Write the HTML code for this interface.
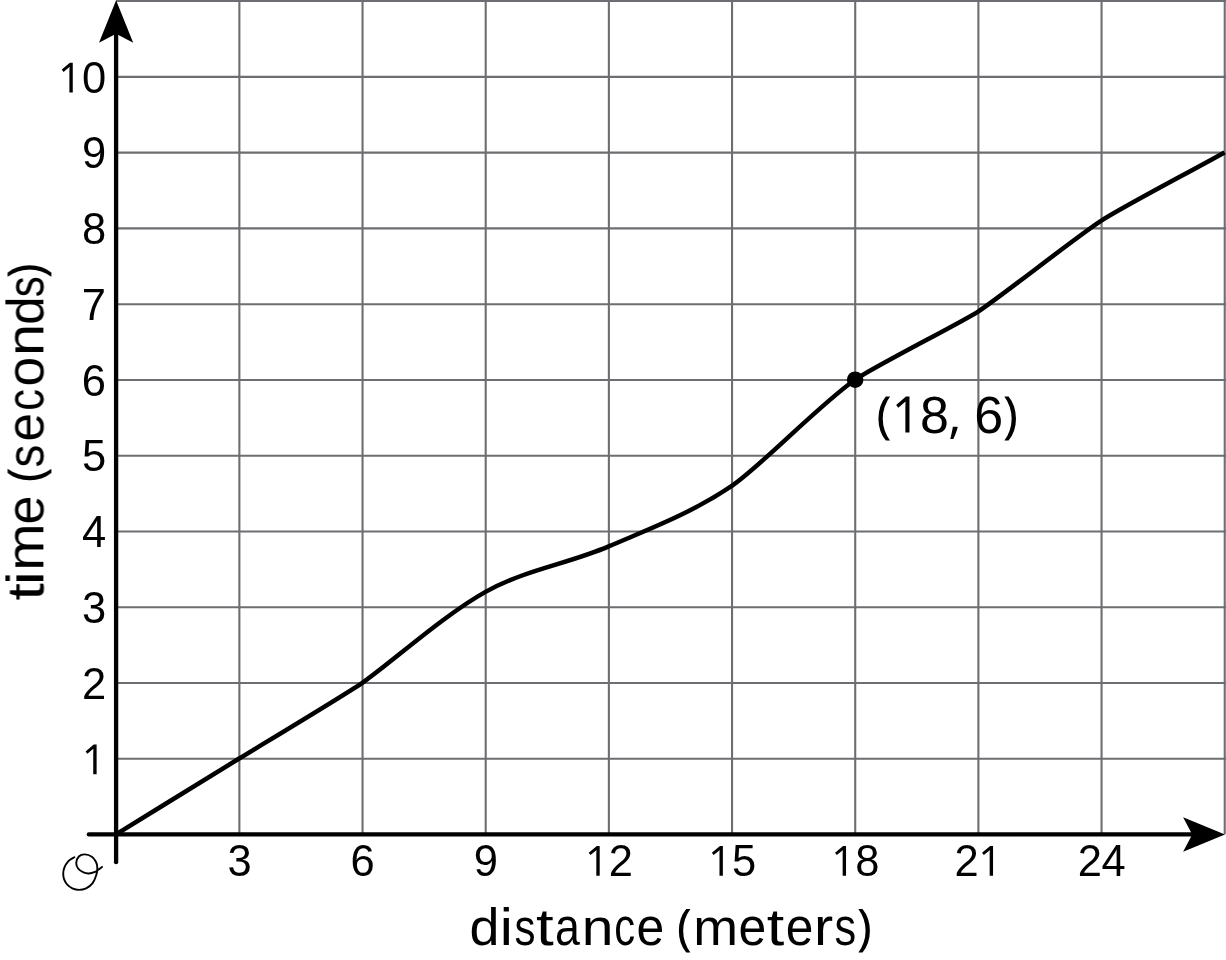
<!DOCTYPE html>
<html><head><meta charset="utf-8"><title>graph</title>
<style>
html,body{margin:0;padding:0;background:#fff;}
body{width:1226px;height:960px;overflow:hidden;}
svg{display:block;}
text{font-family:"Liberation Sans",sans-serif;fill:#000;}
</style></head><body>
<svg width="1226" height="960" viewBox="0 0 1226 960">
<rect width="1226" height="960" fill="#fff"/>
<g stroke="#6d6e71" stroke-width="2.1" fill="none">
<line x1="239.37" y1="0" x2="239.37" y2="834.30"/>
<line x1="362.54" y1="0" x2="362.54" y2="834.30"/>
<line x1="485.71" y1="0" x2="485.71" y2="834.30"/>
<line x1="608.88" y1="0" x2="608.88" y2="834.30"/>
<line x1="732.05" y1="0" x2="732.05" y2="834.30"/>
<line x1="855.22" y1="0" x2="855.22" y2="834.30"/>
<line x1="978.39" y1="0" x2="978.39" y2="834.30"/>
<line x1="1101.56" y1="0" x2="1101.56" y2="834.30"/>
<line x1="1224.73" y1="0" x2="1224.73" y2="834.30"/>
<line x1="116.00" y1="758.74" x2="1226" y2="758.74"/>
<line x1="116.00" y1="682.98" x2="1226" y2="682.98"/>
<line x1="116.00" y1="607.22" x2="1226" y2="607.22"/>
<line x1="116.00" y1="531.46" x2="1226" y2="531.46"/>
<line x1="116.00" y1="455.70" x2="1226" y2="455.70"/>
<line x1="116.00" y1="379.94" x2="1226" y2="379.94"/>
<line x1="116.00" y1="304.18" x2="1226" y2="304.18"/>
<line x1="116.00" y1="228.42" x2="1226" y2="228.42"/>
<line x1="116.00" y1="152.66" x2="1226" y2="152.66"/>
<line x1="116.00" y1="76.90" x2="1226" y2="76.90"/>
<line x1="116.00" y1="0.84" x2="1226" y2="0.84"/>
</g>
<g stroke="#000" stroke-width="4.3" stroke-linecap="round" fill="none">
<line x1="116.1" y1="862.2" x2="116.1" y2="30"/>
<line x1="88.8" y1="834.4" x2="1195" y2="834.4"/>
</g>
<path d="M116.1,0.3 L133.2,42.7 L116.1,33.7 L99,42.7 Z" fill="#000"/>
<path d="M1225,834.5 L1183.1,817.2 L1192.2,834.5 L1183.1,851.8 Z" fill="#000"/>
<path d="M116.00,834.30 C157.06,809.05 218.64,771.17 239.17,758.54 C259.70,745.91 341.81,696.67 362.34,682.78 C386.97,666.11 444.45,614.60 485.51,591.87 C526.57,569.14 567.62,564.09 608.68,546.41 C649.74,528.73 690.79,513.58 731.85,485.80 C760.59,466.36 818.07,405.88 855.02,379.74 C871.44,368.12 961.77,322.16 978.19,311.56 C998.72,298.30 1076.73,236.55 1101.36,220.64 C1121.89,207.39 1183.47,175.19 1224.53,152.46" stroke="#000" stroke-width="4.5" fill="none" stroke-linejoin="round" stroke-linecap="butt"/>
<circle cx="855.15" cy="379.7" r="8.3" fill="#000"/>
<g fill="#000" opacity="0.999">
<text x="227.50" y="875.70" font-size="43.5">3</text>
<text x="350.40" y="875.70" font-size="43.5">6</text>
<text x="473.72" y="875.70" font-size="43.5">9</text>
<path transform="translate(585.14,875.70) scale(0.02036,-0.02036)" d="M715,0H549V1014Q549,1130 557,1262Q535,1240 508,1217L262,1012L174,1124L573,1462H715Z"/>
<text x="608.81" y="875.70" font-size="43.5">2</text>
<path transform="translate(708.31,875.70) scale(0.02036,-0.02036)" d="M715,0H549V1014Q549,1130 557,1262Q535,1240 508,1217L262,1012L174,1124L573,1462H715Z"/>
<text x="732.02" y="875.70" font-size="43.5">5</text>
<path transform="translate(831.48,875.70) scale(0.02036,-0.02036)" d="M715,0H549V1014Q549,1130 557,1262Q535,1240 508,1217L262,1012L174,1124L573,1462H715Z"/>
<text x="855.15" y="875.70" font-size="43.5">8</text>
<path transform="translate(978.49,875.70) scale(0.02036,-0.02036)" d="M715,0H549V1014Q549,1130 557,1262Q535,1240 508,1217L262,1012L174,1124L573,1462H715Z"/>
<text x="954.47" y="875.70" font-size="43.5">2</text>
<text x="1077.64 1101.62" y="875.70" font-size="43.5">24</text>
<path transform="translate(82.06,774.34) scale(0.02036,-0.02036)" d="M715,0H549V1014Q549,1130 557,1262Q535,1240 508,1217L262,1012L174,1124L573,1462H715Z"/>
<text x="" y="774.34" font-size="43.5"></text>
<text x="81.88" y="698.58" font-size="43.5">2</text>
<text x="82.01" y="622.82" font-size="43.5">3</text>
<text x="82.02" y="547.06" font-size="43.5">4</text>
<text x="81.92" y="471.30" font-size="43.5">5</text>
<text x="81.73" y="395.54" font-size="43.5">6</text>
<text x="81.86" y="319.78" font-size="43.5">7</text>
<text x="81.88" y="244.02" font-size="43.5">8</text>
<text x="81.89" y="168.26" font-size="43.5">9</text>
<path transform="translate(58.21,92.50) scale(0.02036,-0.02036)" d="M715,0H549V1014Q549,1130 557,1262Q535,1240 508,1217L262,1012L174,1124L573,1462H715Z"/>
<text x="81.88" y="92.50" font-size="43.5">0</text>
<path transform="translate(876.40,432.60) scale(0.02466,-0.02466)" d="M82,561Q82,827 159.5,1058.5T383,1462H555Q411,1269 334.5,1038T258,563Q258,323 334.5,94T553,-324H383Q236,-154 159,73T82,561Z"/>
<path transform="translate(891.84,432.60) scale(0.02466,-0.02466)" d="M715,0H549V1014Q549,1130 557,1262Q535,1240 508,1217L262,1012L174,1124L573,1462H715Z"/>
<path transform="translate(948.72,432.60) scale(0.02466,-0.02466)" d="M350,238L365,215Q339,115 290,-17.5T188,-264H63Q90,-160 122.5,-7T168,238Z"/>
<path transform="translate(1018.00,432.60) scale(-0.02466,-0.02466)" d="M82,561Q82,827 159.5,1058.5T383,1462H555Q411,1269 334.5,1038T258,563Q258,323 334.5,94T553,-324H383Q236,-154 159,73T82,561Z"/>
<text x="920.04 974.36" y="432.60" font-size="52.0">86</text>
<text transform="translate(483.80,944.60) scale(1.055,1)" x="-13.61" y="0" font-size="51">d</text>
<text transform="translate(506.20,944.60) scale(1.160,1)" x="-5.65" y="0" font-size="51">i</text>
<text transform="translate(524.75,944.60) scale(0.823,1)" x="-12.54" y="0" font-size="51">s</text>
<text transform="translate(545.05,944.60) scale(1.250,1)" x="-7.28" y="0" font-size="51">t</text>
<text transform="translate(567.20,944.60) scale(0.877,1)" x="-13.91" y="0" font-size="51">a</text>
<text transform="translate(597.70,944.60) scale(1.117,1)" x="-14.22" y="0" font-size="51">n</text>
<text transform="translate(625.10,944.60) scale(0.819,1)" x="-13.16" y="0" font-size="51">c</text>
<text transform="translate(650.20,944.60) scale(0.978,1)" x="-14.13" y="0" font-size="51">e</text>
<path transform="translate(676.87,944.60) scale(0.02441,-0.02441)" d="M82,561Q82,827 159.5,1058.5T383,1462H555Q411,1269 334.5,1038T258,563Q258,323 334.5,94T553,-324H383Q236,-154 159,73T82,561Z"/>
<text transform="translate(715.65,944.60) scale(1.055,1)" x="-21.25" y="0" font-size="51">m</text>
<text transform="translate(752.40,944.60) scale(0.978,1)" x="-14.13" y="0" font-size="51">e</text>
<text transform="translate(775.75,944.60) scale(1.236,1)" x="-7.28" y="0" font-size="51">t</text>
<text transform="translate(799.45,944.60) scale(0.974,1)" x="-14.13" y="0" font-size="51">e</text>
<text transform="translate(825.10,944.60) scale(1.129,1)" x="-9.76" y="0" font-size="51">r</text>
<text transform="translate(845.25,944.60) scale(0.850,1)" x="-12.54" y="0" font-size="51">s</text>
<path transform="translate(871.88,944.60) scale(-0.02441,-0.02441)" d="M82,561Q82,827 159.5,1058.5T383,1462H555Q411,1269 334.5,1038T258,563Q258,323 334.5,94T553,-324H383Q236,-154 159,73T82,561Z"/>
<g transform="translate(43.4,0) rotate(-90)"><text transform="translate(-591.75,0.00) scale(1.221,1)" x="-7.28" y="0" font-size="51">t</text>
<text transform="translate(-578.10,0.00) scale(1.249,1)" x="-5.65" y="0" font-size="51">i</text>
<text transform="translate(-547.00,0.00) scale(1.114,1)" x="-21.25" y="0" font-size="51">m</text>
<text transform="translate(-510.10,0.00) scale(1.020,1)" x="-14.13" y="0" font-size="51">e</text>
<path transform="translate(-482.28,0.00) scale(0.02441,-0.02441)" d="M82,561Q82,827 159.5,1058.5T383,1462H555Q411,1269 334.5,1038T258,563Q258,323 334.5,94T553,-324H383Q236,-154 159,73T82,561Z"/>
<text transform="translate(-456.35,0.00) scale(0.895,1)" x="-12.54" y="0" font-size="51">s</text>
<text transform="translate(-427.30,0.00) scale(1.003,1)" x="-14.13" y="0" font-size="51">e</text>
<text transform="translate(-399.50,0.00) scale(0.855,1)" x="-13.16" y="0" font-size="51">c</text>
<text transform="translate(-371.80,0.00) scale(1.046,1)" x="-14.18" y="0" font-size="51">o</text>
<text transform="translate(-340.05,0.00) scale(1.131,1)" x="-14.22" y="0" font-size="51">n</text>
<text transform="translate(-311.15,0.00) scale(0.998,1)" x="-13.61" y="0" font-size="51">d</text>
<text transform="translate(-287.05,0.00) scale(0.823,1)" x="-12.54" y="0" font-size="51">s</text>
<path transform="translate(-263.27,0.00) scale(-0.02441,-0.02441)" d="M82,561Q82,827 159.5,1058.5T383,1462H555Q411,1269 334.5,1038T258,563Q258,323 334.5,94T553,-324H383Q236,-154 159,73T82,561Z"/></g>
</g>
<path d="M74.01,856.88 C72.97,857.57 69.44,859.29 67.76,861.04 C66.09,862.80 64.78,865.34 63.96,867.40 C63.14,869.46 62.83,871.39 62.81,873.39 C62.80,875.39 63.18,877.56 63.86,879.38 C64.53,881.20 65.53,882.90 66.88,884.33 C68.22,885.76 70.00,887.11 71.93,887.98 C73.86,888.84 76.14,889.54 78.44,889.54 C80.74,889.54 83.43,889.11 85.73,887.98 C88.04,886.85 90.55,884.98 92.25,882.77 C93.94,880.55 95.11,877.25 95.89,874.69 C96.67,872.13 96.98,869.57 96.93,867.40 C96.89,865.23 96.54,863.49 95.63,861.67 C94.72,859.85 93.33,857.72 91.47,856.46 C89.60,855.20 86.60,854.16 84.43,854.12 C82.26,854.07 79.87,854.77 78.44,856.20 C77.01,857.63 75.92,860.67 75.84,862.71 C75.75,864.75 76.71,866.88 77.92,868.44 C79.14,870.00 81.39,871.31 83.13,872.09 C84.87,872.87 86.43,873.22 88.34,873.13 C90.25,873.04 92.94,872.22 94.59,871.57 C96.24,870.92 97.07,870.05 98.24,869.22 C99.41,868.40 101.06,867.05 101.62,866.62" stroke="#000" stroke-width="1.9" fill="none" stroke-linecap="round" transform="translate(0.4,0.3)"/>
</svg>
</body></html>
